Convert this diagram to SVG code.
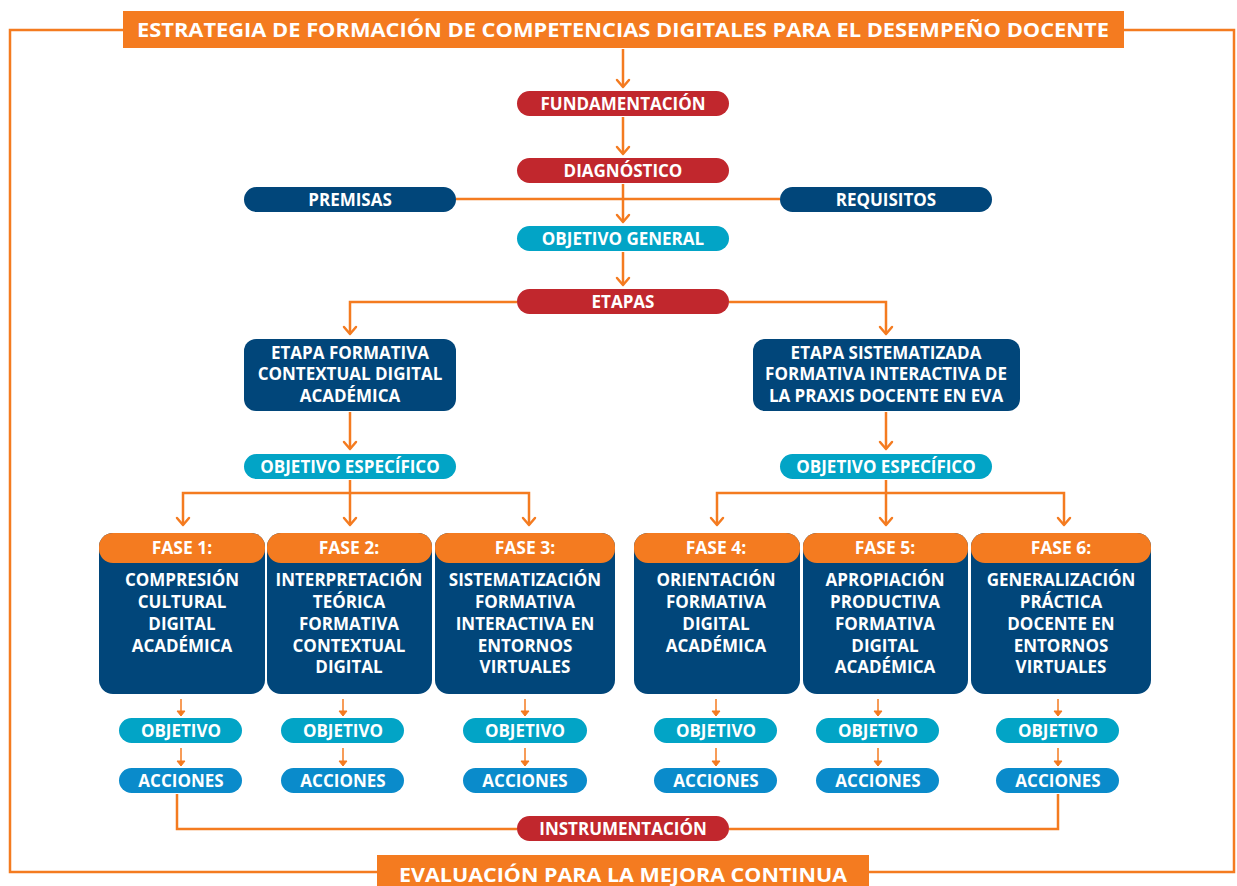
<svg xmlns="http://www.w3.org/2000/svg" width="1237" height="886" viewBox="0 0 1237 886">
<defs>
<style>
text{font-family:"Open Sans","Noto Sans","Liberation Sans",sans-serif;font-weight:bold;fill:#fff;text-anchor:middle}
.t{font-size:20px}
.p{font-size:17px}
.b{font-size:17px}
.s{font-size:17.5px}
.line{fill:none;stroke:#F47B20;stroke-width:2.5}
.thin{fill:none;stroke:#F47B20;stroke-width:1.5}
.or{fill:#F47B20}
.red{fill:#C1272D}
.dk{fill:#01467A}
.cy{fill:#02A4C6}
.ac{fill:#0A8BCB}
</style>
<marker id="ah" markerUnits="userSpaceOnUse" markerWidth="20" markerHeight="20" refX="0" refY="0" orient="auto" overflow="visible">
<path d="M-7,-6 L0,0 L-7,6" fill="none" stroke="#F47B20" stroke-width="2.5" stroke-linejoin="round" stroke-linecap="round"/>
</marker>
<marker id="ahs" markerUnits="userSpaceOnUse" markerWidth="20" markerHeight="20" refX="0" refY="0" orient="auto" overflow="visible">
<path d="M-5,-4 L0,0 L-5,4 Z" fill="#F47B20" stroke="#F47B20" stroke-width="1"/>
</marker>
</defs>
<rect width="1237" height="886" fill="#fff"/>

<g id="connectors">
<path class="line" d="M123,30 H10 V872 H377"/>
<path class="line" d="M1124,30 H1234 V872 H869"/>
<path class="line" d="M623,49 V87" marker-end="url(#ah)"/>
<path class="line" d="M623,117 V154" marker-end="url(#ah)"/>
<path class="line" d="M456,199 H780"/>
<path class="line" d="M623,184 V222" marker-end="url(#ah)"/>
<path class="line" d="M623,252 V285" marker-end="url(#ah)"/>
<path class="line" d="M517,302 H350 V334" marker-end="url(#ah)"/>
<path class="line" d="M729,302 H886 V334" marker-end="url(#ah)"/>
<path class="line" d="M350,412 V449" marker-end="url(#ah)"/>
<path class="line" d="M886,412 V449" marker-end="url(#ah)"/>
<path class="line" d="M350,480 V525" marker-end="url(#ah)"/>
<path class="line" d="M350,493 H183 V525" marker-end="url(#ah)"/>
<path class="line" d="M350,493 H529 V525" marker-end="url(#ah)"/>
<path class="line" d="M886,480 V525" marker-end="url(#ah)"/>
<path class="line" d="M886,493 H717 V525" marker-end="url(#ah)"/>
<path class="line" d="M886,493 H1064 V525" marker-end="url(#ah)"/>
<path class="thin" d="M181,699 V716" marker-end="url(#ahs)"/>
<path class="thin" d="M343,699 V716" marker-end="url(#ahs)"/>
<path class="thin" d="M525,699 V716" marker-end="url(#ahs)"/>
<path class="thin" d="M716,699 V716" marker-end="url(#ahs)"/>
<path class="thin" d="M878,699 V716" marker-end="url(#ahs)"/>
<path class="thin" d="M1058,699 V716" marker-end="url(#ahs)"/>
<path class="thin" d="M181,748 V766" marker-end="url(#ahs)"/>
<path class="thin" d="M343,748 V766" marker-end="url(#ahs)"/>
<path class="thin" d="M525,748 V766" marker-end="url(#ahs)"/>
<path class="thin" d="M716,748 V766" marker-end="url(#ahs)"/>
<path class="thin" d="M878,748 V766" marker-end="url(#ahs)"/>
<path class="thin" d="M1058,748 V766" marker-end="url(#ahs)"/>
<path class="line" d="M177,794 V829 H517"/>
<path class="line" d="M729,829 H1058 V794"/>
</g>

<g id="title">
<rect class="or" x="123" y="11" width="1001" height="37"/>
<text class="t" x="623" y="37" textLength="972" lengthAdjust="spacingAndGlyphs">ESTRATEGIA DE FORMACIÓN DE COMPETENCIAS DIGITALES PARA EL DESEMPEÑO DOCENTE</text>
</g>
<g id="evaluacion">
<rect class="or" x="377" y="855" width="492" height="35"/>
<text class="t" x="623" y="882" textLength="448" lengthAdjust="spacingAndGlyphs">EVALUACIÓN PARA LA MEJORA CONTINUA</text>
</g>

<g id="fundamentacion">
<rect class="red" x="517" y="91" width="212" height="25" rx="12.5"/>
<text class="p" x="623" y="109.5">FUNDAMENTACIÓN</text>
</g>
<g id="diagnostico">
<rect class="red" x="517" y="158" width="212" height="25" rx="12.5"/>
<text class="p" x="623" y="176.5">DIAGNÓSTICO</text>
</g>
<g id="premisas">
<rect class="dk" x="244" y="187" width="212" height="25" rx="12.5"/>
<text class="p" x="350" y="205.5">PREMISAS</text>
</g>
<g id="requisitos">
<rect class="dk" x="780" y="187" width="212" height="25" rx="12.5"/>
<text class="p" x="886" y="205.5">REQUISITOS</text>
</g>
<g id="objetivo-general">
<rect class="cy" x="517" y="226" width="212" height="25" rx="12.5"/>
<text class="p" x="623" y="244.5">OBJETIVO GENERAL</text>
</g>
<g id="etapas">
<rect class="red" x="517" y="289" width="212" height="25" rx="12.5"/>
<text class="p" x="623" y="307.5">ETAPAS</text>
</g>
<g id="instrumentacion">
<rect class="red" x="517" y="816" width="212" height="25" rx="12.5"/>
<text class="p" x="623" y="834.5">INSTRUMENTACIÓN</text>
</g>

<g id="etapa-formativa">
<rect class="dk" x="244" y="339" width="212" height="72" rx="12"/>
<text class="b" x="350" y="359">ETAPA FORMATIVA</text>
<text class="b" x="350" y="380">CONTEXTUAL DIGITAL</text>
<text class="b" x="350" y="402">ACADÉMICA</text>
</g>
<g id="etapa-sistematizada">
<rect class="dk" x="753" y="339" width="267" height="72" rx="12"/>
<text class="b" x="886" y="359">ETAPA SISTEMATIZADA</text>
<text class="b" x="886" y="380">FORMATIVA INTERACTIVA DE</text>
<text class="b" x="886" y="402">LA PRAXIS DOCENTE EN EVA</text>
</g>
<g id="objetivo-especifico-1">
<rect class="cy" x="244" y="454" width="212" height="25" rx="12.5"/>
<text class="p" x="350" y="472.5">OBJETIVO ESPECÍFICO</text>
</g>
<g id="objetivo-especifico-2">
<rect class="cy" x="780" y="454" width="212" height="25" rx="12.5"/>
<text class="p" x="886" y="472.5">OBJETIVO ESPECÍFICO</text>
</g>

<g id="fase1">
<rect class="dk" x="99" y="533" width="166" height="161" rx="14"/>
<rect class="or" x="99" y="533" width="166" height="30" rx="14"/>
<text class="s" x="182" y="554">FASE 1:</text>
<text class="b" x="182" y="586">COMPRESIÓN</text>
<text class="b" x="182" y="608">CULTURAL</text>
<text class="b" x="182" y="630">DIGITAL</text>
<text class="b" x="182" y="652">ACADÉMICA</text>
</g>
<g id="fase2">
<rect class="dk" x="267" y="533" width="165" height="161" rx="14"/>
<rect class="or" x="267" y="533" width="165" height="30" rx="14"/>
<text class="s" x="349" y="554">FASE 2:</text>
<text class="b" x="349" y="586">INTERPRETACIÓN</text>
<text class="b" x="349" y="608">TEÓRICA</text>
<text class="b" x="349" y="630">FORMATIVA</text>
<text class="b" x="349" y="652">CONTEXTUAL</text>
<text class="b" x="349" y="673">DIGITAL</text>
</g>
<g id="fase3">
<rect class="dk" x="435" y="533" width="180" height="161" rx="14"/>
<rect class="or" x="435" y="533" width="180" height="30" rx="14"/>
<text class="s" x="525" y="554">FASE 3:</text>
<text class="b" x="525" y="586">SISTEMATIZACIÓN</text>
<text class="b" x="525" y="608">FORMATIVA</text>
<text class="b" x="525" y="630">INTERACTIVA EN</text>
<text class="b" x="525" y="652">ENTORNOS</text>
<text class="b" x="525" y="673">VIRTUALES</text>
</g>
<g id="fase4">
<rect class="dk" x="634" y="533" width="166" height="161" rx="14"/>
<rect class="or" x="634" y="533" width="166" height="30" rx="14"/>
<text class="s" x="716" y="554">FASE 4:</text>
<text class="b" x="716" y="586">ORIENTACIÓN</text>
<text class="b" x="716" y="608">FORMATIVA</text>
<text class="b" x="716" y="630">DIGITAL</text>
<text class="b" x="716" y="652">ACADÉMICA</text>
</g>
<g id="fase5">
<rect class="dk" x="803" y="533" width="165" height="161" rx="14"/>
<rect class="or" x="803" y="533" width="165" height="30" rx="14"/>
<text class="s" x="885" y="554">FASE 5:</text>
<text class="b" x="885" y="586">APROPIACIÓN</text>
<text class="b" x="885" y="608">PRODUCTIVA</text>
<text class="b" x="885" y="630">FORMATIVA</text>
<text class="b" x="885" y="652">DIGITAL</text>
<text class="b" x="885" y="673">ACADÉMICA</text>
</g>
<g id="fase6">
<rect class="dk" x="971" y="533" width="180" height="161" rx="14"/>
<rect class="or" x="971" y="533" width="180" height="30" rx="14"/>
<text class="s" x="1061" y="554">FASE 6:</text>
<text class="b" x="1061" y="586">GENERALIZACIÓN</text>
<text class="b" x="1061" y="608">PRÁCTICA</text>
<text class="b" x="1061" y="630">DOCENTE EN</text>
<text class="b" x="1061" y="652">ENTORNOS</text>
<text class="b" x="1061" y="673">VIRTUALES</text>
</g>

<g id="objetivo-1"><rect class="cy" x="119" y="718" width="123" height="25" rx="12.5"/><text class="p" x="181" y="736.5">OBJETIVO</text></g>
<g id="objetivo-2"><rect class="cy" x="281" y="718" width="123" height="25" rx="12.5"/><text class="p" x="343" y="736.5">OBJETIVO</text></g>
<g id="objetivo-3"><rect class="cy" x="463" y="718" width="124" height="25" rx="12.5"/><text class="p" x="525" y="736.5">OBJETIVO</text></g>
<g id="objetivo-4"><rect class="cy" x="654" y="718" width="123" height="25" rx="12.5"/><text class="p" x="716" y="736.5">OBJETIVO</text></g>
<g id="objetivo-5"><rect class="cy" x="816" y="718" width="123" height="25" rx="12.5"/><text class="p" x="878" y="736.5">OBJETIVO</text></g>
<g id="objetivo-6"><rect class="cy" x="996" y="718" width="123" height="25" rx="12.5"/><text class="p" x="1058" y="736.5">OBJETIVO</text></g>

<g id="acciones-1"><rect class="ac" x="119" y="768" width="123" height="25" rx="12.5"/><text class="p" x="181" y="786.5">ACCIONES</text></g>
<g id="acciones-2"><rect class="ac" x="281" y="768" width="123" height="25" rx="12.5"/><text class="p" x="343" y="786.5">ACCIONES</text></g>
<g id="acciones-3"><rect class="ac" x="463" y="768" width="124" height="25" rx="12.5"/><text class="p" x="525" y="786.5">ACCIONES</text></g>
<g id="acciones-4"><rect class="ac" x="654" y="768" width="123" height="25" rx="12.5"/><text class="p" x="716" y="786.5">ACCIONES</text></g>
<g id="acciones-5"><rect class="ac" x="816" y="768" width="123" height="25" rx="12.5"/><text class="p" x="878" y="786.5">ACCIONES</text></g>
<g id="acciones-6"><rect class="ac" x="996" y="768" width="123" height="25" rx="12.5"/><text class="p" x="1058" y="786.5">ACCIONES</text></g>
</svg>
